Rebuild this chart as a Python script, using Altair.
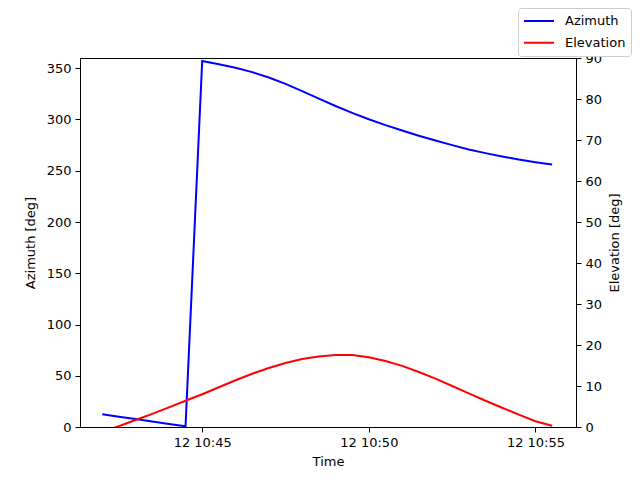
import altair as alt
import pandas as pd

# samples every 30 s (day 12)
times = [
    "2024-01-12T10:42:00", "2024-01-12T10:42:30", "2024-01-12T10:43:00", "2024-01-12T10:43:30",
    "2024-01-12T10:44:00", "2024-01-12T10:44:30", "2024-01-12T10:45:00", "2024-01-12T10:45:30",
    "2024-01-12T10:46:00", "2024-01-12T10:46:30", "2024-01-12T10:47:00", "2024-01-12T10:47:30",
    "2024-01-12T10:48:00", "2024-01-12T10:48:30", "2024-01-12T10:49:00", "2024-01-12T10:49:30",
    "2024-01-12T10:50:00", "2024-01-12T10:50:30", "2024-01-12T10:51:00", "2024-01-12T10:51:30",
    "2024-01-12T10:52:00", "2024-01-12T10:52:30", "2024-01-12T10:53:00", "2024-01-12T10:53:30",
    "2024-01-12T10:54:00", "2024-01-12T10:54:30", "2024-01-12T10:55:00", "2024-01-12T10:55:30",
]
azimuth = [
    12.4, 10.1, 7.7, 5.4, 3.0, 0.7, 357.1, 353.9, 350.4, 346.2, 341.0, 334.7, 327.7, 320.4,
    313.2, 306.4, 300.2, 294.5, 289.2, 284.2, 279.5, 275.0, 270.8, 267.2, 263.9, 260.9, 258.3, 256.0,
]
elevation = [
    -1.3, 0.2, 1.7, 3.2, 4.8, 6.4, 8.0, 9.7, 11.4, 13.0, 14.4, 15.6, 16.6, 17.2,
    17.55, 17.55, 17.0, 16.1, 14.9, 13.4, 11.8, 10.0, 8.2, 6.4, 4.7, 3.0, 1.4, 0.3,
]
series_names = ["Azimuth", "Elevation"]
series_colors = ["#0000ff", "#ff0000"]
az_ticks = [0, 50, 100, 150, 200, 250, 300, 350]
el_ticks = [0, 10, 20, 30, 40, 50, 60, 70, 80, 90]

df = pd.DataFrame({"time": times, "Azimuth": azimuth, "Elevation": elevation})


def day_time(h, m, s=0):
    return alt.DateTime(year=2024, month=1, date=12, hours=h, minutes=m, seconds=s)


x_enc = alt.X(
    "time:T", title="Time",
    scale=alt.Scale(domain=[day_time(10, 41, 20), day_time(10, 56, 13)]),
    axis=alt.Axis(values=[day_time(10, 45), day_time(10, 50), day_time(10, 55)],
                  format="%d %H:%M"),
)

color_enc = alt.Color(
    "series:N",
    scale=alt.Scale(domain=series_names, range=series_colors),
    legend=alt.Legend(
        title=None, orient="none", legendX=438, legendY=-50,
        symbolType="stroke", symbolSize=900, symbolStrokeWidth=2,
        clipHeight=16, rowPadding=5.7, labelOffset=10, padding=5,
        strokeColor="#cccccc", fillColor="white", cornerRadius=3,
        labelFont="DejaVu Sans", labelFontSize=13, labelColor="black",
    ),
)

base = alt.Chart(df)

az_line = base.transform_calculate(series='"Azimuth"').mark_line(
    strokeWidth=2, clip=True
).encode(
    x=x_enc,
    y=alt.Y("Azimuth:Q", title="Azimuth [deg]",
            scale=alt.Scale(domain=[0, 360], nice=False),
            axis=alt.Axis(values=az_ticks, orient="left", titlePadding=9)),
    color=color_enc,
)

el_line = base.transform_calculate(series='"Elevation"').mark_line(
    strokeWidth=2, clip=True
).encode(
    x=x_enc,
    y=alt.Y("Elevation:Q", title="Elevation [deg]",
            scale=alt.Scale(domain=[0, 90], nice=False),
            axis=alt.Axis(values=el_ticks, orient="right", titleAngle=270,
                          titleBaseline="top", titlePadding=7)),
    color=color_enc,
)

chart = alt.layer(az_line, el_line).resolve_scale(y="independent").properties(
    width=496, height=369,
    autosize=alt.AutoSizeParams(type="none"),
    padding={"left": 72, "top": 50, "right": 56, "bottom": 45},
    background="white",
).configure_view(
    stroke="black", strokeWidth=1
).configure_axis(
    grid=False, domainColor="black", tickColor="black", labelColor="black",
    titleColor="black", labelFont="DejaVu Sans", titleFont="DejaVu Sans",
    labelFontSize=13, titleFontSize=13, titleFontWeight="normal",
    tickSize=5, labelPadding=4, titlePadding=6,
)

chart.save("out.html", embed_options={"renderer": "svg", "actions": False})
